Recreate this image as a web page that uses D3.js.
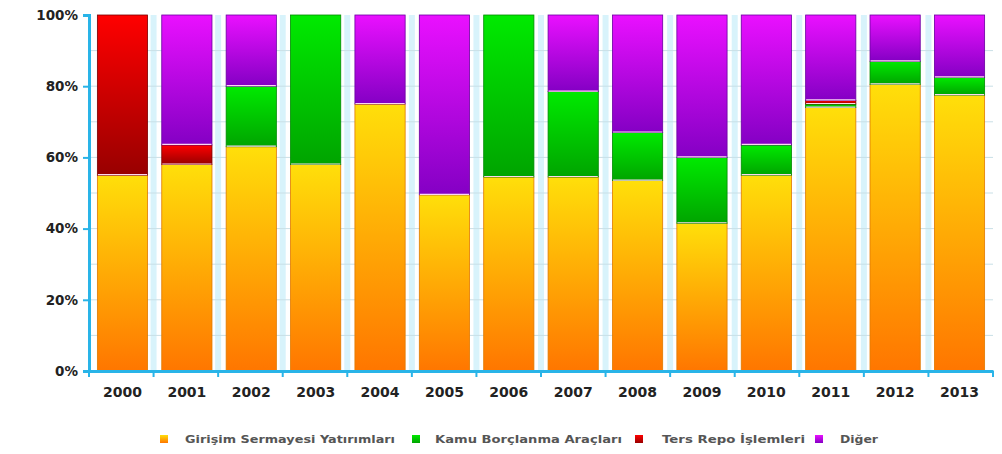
<!DOCTYPE html>
<html>
<head>
<meta charset="utf-8">
<script src="https://cdn.jsdelivr.net/npm/d3@7"></script>
<style>
  html, body { margin: 0; padding: 0; background: #ffffff; }
  svg { display: block; }
  text { font-family: "DejaVu Sans", Verdana, sans-serif; }
</style>
</head>
<body>
<svg id="chart" width="1002" height="454"></svg>
<script>
// Yearly portfolio distribution (% shares)
const years = ["2000","2001","2002","2003","2004","2005","2006","2007","2008","2009","2010","2011","2012","2013"];
const girisim = [55, 58, 63, 58, 75, 49.5, 54.5, 54.5, 53.5, 41.5, 55, 74, 80.5, 77.5];
const kamu    = [0, 0, 17, 42, 0, 0, 45.5, 24, 13.5, 18.5, 8.5, 1, 6.5, 5];
const repo    = [45, 5.5, 0, 0, 0, 0, 0, 0, 0, 0, 0, 1, 0, 0];
const diger   = [0, 36.5, 20, 0, 25, 50.5, 0, 21.5, 33, 40, 36.5, 24, 13, 17.5];
const seriesNames = ["Girişim Sermayesi Yatırımları", "Kamu Borçlanma Araçları", "Ters Repo İşlemleri", "Diğer"];
const yTicks = [0, 20, 40, 60, 80, 100];

const seriesStyle = [
  { id: "gGir", top: "#ffdf0a", bottom: "#ff7600", stroke: "#e07a00" },
  { id: "gKam", top: "#00ea00", bottom: "#00a400", stroke: "#008a00" },
  { id: "gRep", top: "#ff0000", bottom: "#980000", stroke: "#7a0000" },
  { id: "gDig", top: "#ea10ff", bottom: "#8400c4", stroke: "#6a00a0" }
];

const svg = d3.select("#chart");
const plotLeft = 89, plotRight = 993, plotTop = 15, plotBottom = 371;

const x = d3.scaleBand().domain(years).range([plotLeft, plotRight]).paddingInner(0.22).paddingOuter(0.13);
const y = d3.scaleLinear().domain([0, 100]).range([plotBottom, plotTop]);

// gradients
const defs = svg.append("defs");
seriesStyle.forEach(s => {
  const g = defs.append("linearGradient").attr("id", s.id)
    .attr("x1", 0).attr("y1", 0).attr("x2", 0).attr("y2", 1);
  g.append("stop").attr("offset", "0%").attr("stop-color", s.top);
  g.append("stop").attr("offset", "100%").attr("stop-color", s.bottom);
});

// category separator bands
const step = (plotRight - plotLeft) / years.length;
svg.append("g").selectAll("line")
  .data(d3.range(1, years.length))
  .join("line")
  .attr("x1", i => plotLeft + i * step).attr("x2", i => plotLeft + i * step)
  .attr("y1", plotTop).attr("y2", plotBottom)
  .attr("stroke", "#d8f3fb").attr("stroke-width", 6);

// horizontal gridlines every 10%
svg.append("g").selectAll("line")
  .data(d3.range(10, 100, 10))
  .join("line")
  .attr("x1", plotLeft).attr("x2", plotRight)
  .attr("y1", d => y(d)).attr("y2", d => y(d))
  .attr("stroke", "#c9dfe6").attr("stroke-width", 1);

// stacked bars
const table = years.map((yr, i) => ({ year: yr, s0: girisim[i], s1: kamu[i], s2: repo[i], s3: diger[i] }));
const stack = d3.stack().keys(["s0", "s1", "s2", "s3"]);
const stacked = stack(table);

svg.append("g").selectAll("g")
  .data(stacked)
  .join("g")
  .each(function(layer, li) {
    d3.select(this).selectAll("rect")
      .data(layer.filter(d => d[1] - d[0] > 0))
      .join("rect")
      .attr("x", d => x(d.data.year))
      .attr("width", x.bandwidth())
      .attr("y", d => y(d[1]))
      .attr("height", d => y(d[0]) - y(d[1]))
      .attr("fill", `url(#${seriesStyle[li].id})`)
      .attr("stroke", seriesStyle[li].stroke)
      .attr("stroke-width", 0.8);
  });

// light seam at each segment top (below 100%)
svg.append("g").selectAll("g")
  .data(stacked)
  .join("g")
  .each(function(layer) {
    d3.select(this).selectAll("line")
      .data(layer.filter(d => d[1] - d[0] > 0 && d[1] < 99.9))
      .join("line")
      .attr("x1", d => x(d.data.year) + 0.5)
      .attr("x2", d => x(d.data.year) + x.bandwidth() - 0.5)
      .attr("y1", d => y(d[1]) - 0.5).attr("y2", d => y(d[1]) - 0.5)
      .attr("stroke", "#fbd8ef").attr("stroke-width", 1.2);
  });

const axisColor = "#29b4e8";

// y axis
const yAxis = svg.append("g").attr("transform", `translate(${plotLeft},0)`)
  .call(d3.axisLeft(y).tickValues(yTicks).tickFormat(d => d + "%").tickSize(6).tickPadding(5));
yAxis.select(".domain").attr("stroke", axisColor).attr("stroke-width", 3);
yAxis.selectAll(".tick line").attr("stroke", axisColor).attr("stroke-width", 2);
yAxis.selectAll(".tick text")
  .attr("font-size", 13.5).attr("font-weight", "bold").attr("fill", "#222");

// x axis
const xAxis = svg.append("g").attr("transform", `translate(0,${plotBottom})`)
  .call(d3.axisBottom(x).tickSize(0).tickPadding(16));
xAxis.select(".domain").attr("stroke", axisColor).attr("stroke-width", 3);
xAxis.selectAll(".tick text")
  .attr("font-size", 14).attr("font-weight", "bold").attr("fill", "#222");

// x boundary ticks
svg.append("g").selectAll("line")
  .data(d3.range(0, years.length + 1))
  .join("line")
  .attr("x1", i => plotLeft + i * step).attr("x2", i => plotLeft + i * step)
  .attr("y1", plotBottom).attr("y2", plotBottom + 6)
  .attr("stroke", axisColor).attr("stroke-width", 2);

// legend
const legendX = [160, 412, 635, 815];
const legendGap = [25, 23, 27, 25];
const legendLen = [210, 187, 143, 38];
const legend = svg.append("g");
seriesNames.forEach((name, i) => {
  legend.append("rect")
    .attr("x", legendX[i]).attr("y", 435).attr("width", 8).attr("height", 8)
    .attr("fill", `url(#${seriesStyle[i].id})`);
  legend.append("text")
    .attr("x", legendX[i] + legendGap[i])
    .attr("y", 443)
    .attr("font-size", 10.5).attr("font-weight", "bold").attr("fill", "#555")
    .attr("textLength", legendLen[i]).attr("lengthAdjust", "spacingAndGlyphs")
    .text(name);
});
</script>
</body>
</html>
